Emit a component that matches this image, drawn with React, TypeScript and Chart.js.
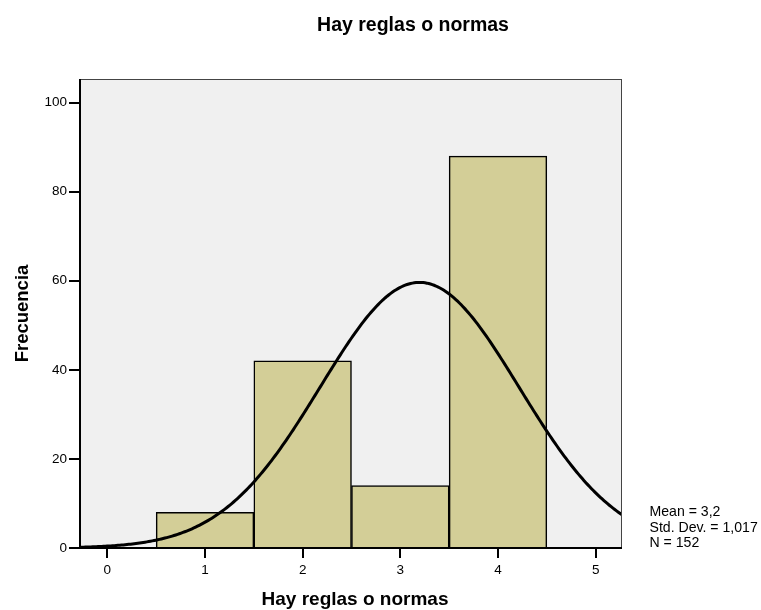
import React, { useEffect, useRef } from "react";
import { Chart, registerables } from "chart.js";

Chart.register(...registerables);

const chartTitle = "Hay reglas o normas";
const xAxisTitle = "Hay reglas o normas";
const yAxisTitle = "Frecuencia";
const binCenters = [1, 2, 3, 4];
const frequencies = [8, 42, 14, 88];
const xTicks = [0, 1, 2, 3, 4, 5];
const yTicks = [0, 20, 40, 60, 80, 100];
const statMean = 3.197;
const statSd = 1.017;
const statN = 152;
const statLines = ["Mean = 3,2", "Std. Dev. = 1,017", "N = 152"];

const X_MIN = -0.28;
const X_MAX = 5.27;
const Y_MAX = 105.3;

// Fitted normal curve (from mean, sd, N shown in the chart, bin width 1)
function normalCurve() {
  const pts: { x: number; y: number }[] = [];
  const steps = 300;
  for (let i = 0; i <= steps; i++) {
    const x = X_MIN + ((X_MAX - X_MIN) * i) / steps;
    const z = (x - statMean) / statSd;
    const y = (statN / (statSd * Math.sqrt(2 * Math.PI))) * Math.exp(-0.5 * z * z);
    pts.push({ x, y });
  }
  return pts;
}

const FONT = "'Liberation Sans', Arial, Helvetica, sans-serif";

const decorPlugin = {
  id: "decor",
  beforeDatasetsDraw(chart: any) {
    const { ctx, chartArea: a } = chart;
    ctx.save();
    ctx.fillStyle = "#f0f0f0";
    ctx.fillRect(a.left, a.top, a.right - a.left, a.bottom - a.top);
    ctx.restore();
  },
  afterDatasetsDraw(chart: any) {
    const { ctx, chartArea: a } = chart;
    ctx.save();
    ctx.strokeStyle = "#444";
    ctx.lineWidth = 1;
    ctx.strokeRect(a.left + 0.5, a.top + 0.5, a.right - a.left - 1, a.bottom - a.top);
    ctx.strokeStyle = "#000";
    ctx.lineWidth = 2;
    ctx.beginPath();
    ctx.moveTo(a.left, a.top);
    ctx.lineTo(a.left, a.bottom);
    ctx.lineTo(a.right, a.bottom);
    ctx.stroke();
    ctx.restore();
  },
  afterDraw(chart: any) {
    const { ctx, chartArea: a } = chart;
    ctx.save();
    ctx.fillStyle = "#000";
    ctx.textBaseline = "alphabetic";
    ctx.textAlign = "center";
    ctx.font = `bold 19.5px ${FONT}`;
    ctx.fillText(chartTitle, 413, 31);
    ctx.font = `bold 19px ${FONT}`;
    ctx.fillText(xAxisTitle, (a.left + a.right) / 2 + 4, 605);
    ctx.save();
    ctx.translate(28, (a.top + a.bottom) / 2);
    ctx.rotate(-Math.PI / 2);
    ctx.font = `bold 18.5px ${FONT}`;
    ctx.fillText(yAxisTitle, 0, 0);
    ctx.restore();
    ctx.textAlign = "left";
    ctx.font = `14.1px ${FONT}`;
    const baselines = [516, 531.5, 547];
    statLines.forEach((s, i) => ctx.fillText(s, 649.5, baselines[i]));
    ctx.restore();
  },
};

export default function App() {
  const ref = useRef<HTMLCanvasElement | null>(null);
  useEffect(() => {
    if (!ref.current) return;
    const chart = new Chart(ref.current, {
      type: "bar",
      data: {
        datasets: [
          {
            type: "line",
            data: normalCurve(),
            borderColor: "#000",
            borderWidth: 3,
            pointRadius: 0,
            tension: 0,
            fill: false,
            order: 0,
          } as any,
          {
            type: "bar",
            data: binCenters.map((c, i) => ({ x: c, y: frequencies[i] })),
            backgroundColor: "#d3ce97",
            borderColor: "#000",
            borderWidth: 1.5,
            barPercentage: 1,
            categoryPercentage: 1,
            order: 1,
          } as any,
        ],
      },
      options: {
        animation: false,
        responsive: false,
        layout: { padding: { left: 0, top: 79, right: 139, bottom: 0 } },
        plugins: { legend: { display: false }, tooltip: { enabled: false }, title: { display: false } },
        scales: {
          x: {
            type: "linear",
            min: X_MIN,
            max: X_MAX,
            offset: false,
            afterBuildTicks: (s: any) => {
              s.ticks = xTicks.map((v) => ({ value: v }));
            },
            afterFit: (s: any) => {
              s.height = 62;
            },
            grid: {
              display: true,
              drawOnChartArea: false,
              drawTicks: true,
              tickLength: 10,
              color: "#000",
              lineWidth: 2,
              offset: false,
            },
            border: { display: false },
            ticks: {
              color: "#000",
              font: { family: FONT, size: 13.5 },
              padding: 4,
              maxRotation: 0,
              callback: (v: any) => String(v),
            },
          },
          y: {
            type: "linear",
            min: 0,
            max: Y_MAX,
            afterBuildTicks: (s: any) => {
              s.ticks = yTicks.map((v) => ({ value: v }));
            },
            afterFit: (s: any) => {
              s.width = 80;
            },
            grid: {
              display: true,
              drawOnChartArea: false,
              drawTicks: true,
              tickLength: 11,
              color: "#000",
              lineWidth: 2,
            },
            border: { display: false },
            ticks: {
              color: "#000",
              font: { family: FONT, size: 13.5 },
              padding: 2,
              callback: (v: any) => String(v),
            },
          },
        },
      },
      plugins: [decorPlugin],
    });
    return () => chart.destroy();
  }, []);
  return (
    <div style={{ position: "absolute", left: 0, top: 0, width: 761, height: 610, background: "#fff" }}>
      <canvas ref={ref} width={761} height={610} style={{ width: 761, height: 610, display: "block" }} />
    </div>
  );
}
